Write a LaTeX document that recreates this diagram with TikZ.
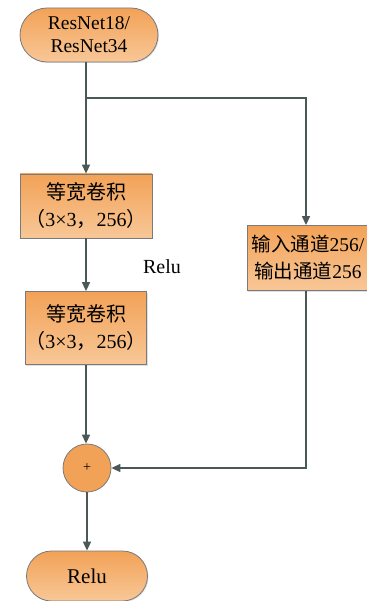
\documentclass[tikz,border=0pt]{standalone}
\usepackage{fontspec}
\setmainfont{Liberation Serif}
\newfontfamily\cjk{Noto Sans CJK SC}
\usetikzlibrary{arrows.meta,shapes.misc,shadows}
\definecolor{orgtop}{HTML}{F2A257}
\definecolor{orgbot}{HTML}{F8C797}
\definecolor{edgec}{HTML}{7A7A7A}
\definecolor{arrc}{HTML}{4A5858}
\tikzset{
  x=1pt,y=-1pt,
  fillorange/.style={top color=orgtop,bottom color=orgbot,draw=edgec,line width=0.8pt,
    drop shadow={shadow xshift=1pt,shadow yshift=-1pt,opacity=0.25}},
  term/.style={fillorange,rounded rectangle,minimum width=138pt,minimum height=54pt,inner sep=0pt,align=center,font=\fontsize{19.5}{23}\selectfont},
  procbox/.style={fillorange,rectangle,inner sep=0pt,align=center,font=\fontsize{20}{27}\selectfont},
  sumc/.style={circle,fill=orgtop,draw=edgec,line width=0.8pt,minimum size=48pt,inner sep=0pt,font=\fontsize{14}{14}\selectfont},
  conn/.style={draw=arrc,line width=1.5pt,-{Triangle[length=9pt,width=8pt]}},
  lbl/.style={font=\fontsize{20}{22}\selectfont}
}
\begin{document}
\begin{tikzpicture}
\useasboundingbox (0,0) rectangle (366,601);
\node[term] (top) at (89,35) {ResNet18/\\ResNet34};
\node[procbox,minimum width=132pt,minimum height=64pt] (c1) at (86,206) {{\cjk 等宽卷积}\\{\cjk （}3×3{\cjk ，}256{\cjk ）}};
\node[procbox,minimum width=121pt,minimum height=73pt] (c2) at (86,328) {{\cjk 等宽卷积}\\{\cjk （}3×3{\cjk ，}256{\cjk ）}};
\node[procbox,minimum width=122pt,minimum height=65pt,font=\fontsize{19.5}{27}\selectfont] (sc) at (308,258) {{\cjk 输入通道}256/\\{\cjk 输出通道}256};
\node[sumc] (sum) at (87,468) {+};
\node[term,minimum width=121pt,minimum height=50pt,font=\fontsize{21}{23}\selectfont] (out) at (87,576) {Relu};
\coordinate (br) at (86,98);
\coordinate (brr) at (306,98);
\coordinate (jn) at (306,468);
\node[lbl] (rl) at (162,267) {Relu};
\draw[draw=arrc,line width=1.5pt] (top.south -| br) -- (br);
\draw[conn] (br) -- (c1.north);
\draw[conn] (br) -- (brr) -- (sc.north -| brr);
\draw[conn] (c1.south) -- (c2.north);
\draw[conn] (c2.south) -- (sum.north -| c2.south);
\draw[conn] (sc.south -| jn) -- (jn) -- (sum.east);
\draw[conn] (sum.south) -- (out.north);
\end{tikzpicture}
\end{document}
